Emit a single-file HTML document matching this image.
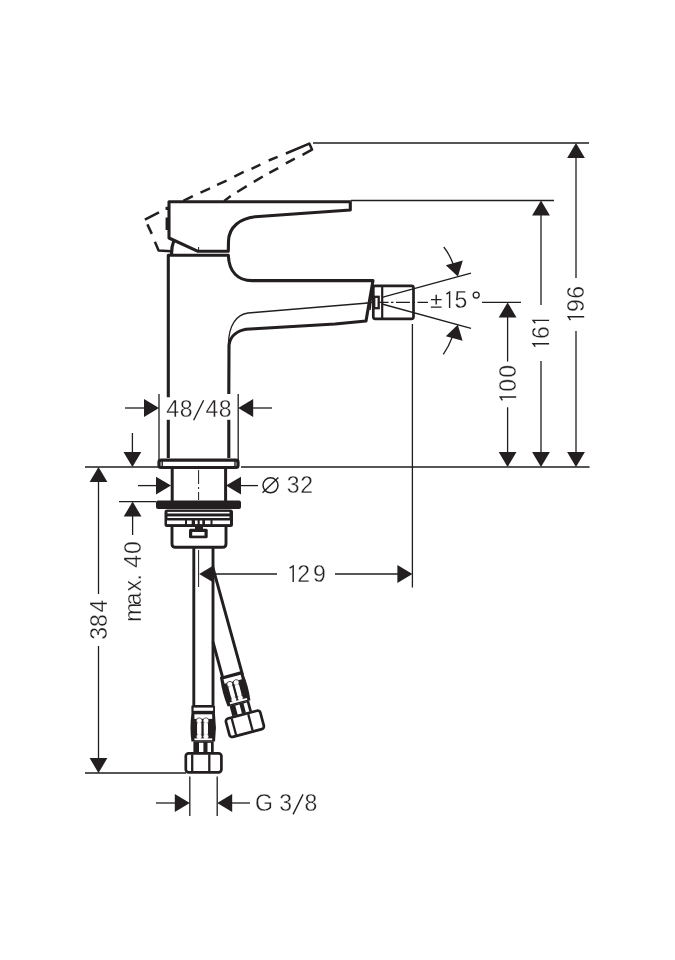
<!DOCTYPE html>
<html><head><meta charset="utf-8"><style>
html,body{margin:0;padding:0;background:#fff;}
svg{display:block;}
text{font-family:"Liberation Sans",sans-serif;}
</style></head><body>
<svg width="675" height="960" viewBox="0 0 675 960">
<rect width="675" height="960" fill="#fff"/>
<line x1="313" y1="143" x2="589" y2="143" stroke="#1e1e1e" stroke-width="1.3" />
<line x1="351" y1="200.5" x2="554" y2="200.5" stroke="#1e1e1e" stroke-width="1.3" />
<line x1="85" y1="467" x2="158" y2="467" stroke="#1e1e1e" stroke-width="1.3" />
<line x1="241" y1="467" x2="589.6" y2="467" stroke="#1e1e1e" stroke-width="1.3" />
<line x1="576" y1="157" x2="576" y2="278" stroke="#1e1e1e" stroke-width="1.3" />
<line x1="576" y1="331" x2="576" y2="452" stroke="#1e1e1e" stroke-width="1.3" />
<polygon points="576.0,143.0 567.1,158.0 584.9,158.0" fill="#231f20"/>
<polygon points="576.0,467.0 567.1,452.0 584.9,452.0" fill="#231f20"/>
<line x1="541" y1="215" x2="541" y2="305" stroke="#1e1e1e" stroke-width="1.3" />
<line x1="541" y1="361" x2="541" y2="452" stroke="#1e1e1e" stroke-width="1.3" />
<polygon points="541.0,200.5 532.1,215.5 549.9,215.5" fill="#231f20"/>
<polygon points="541.0,467.0 532.1,452.0 549.9,452.0" fill="#231f20"/>
<line x1="482" y1="302.4" x2="521" y2="302.4" stroke="#1e1e1e" stroke-width="1.3" />
<line x1="507.6" y1="317" x2="507.6" y2="361.6" stroke="#1e1e1e" stroke-width="1.3" />
<line x1="507.6" y1="407.3" x2="507.6" y2="452" stroke="#1e1e1e" stroke-width="1.3" />
<polygon points="507.6,302.4 498.7,317.4 516.5,317.4" fill="#231f20"/>
<polygon points="507.6,467.0 498.7,452.0 516.5,452.0" fill="#231f20"/>
<line x1="159" y1="394" x2="159" y2="466" stroke="#1e1e1e" stroke-width="1.3" />
<line x1="238.2" y1="394" x2="238.2" y2="466" stroke="#1e1e1e" stroke-width="1.3" />
<polygon points="159.0,408.0 144.0,399.1 144.0,416.9" fill="#231f20"/>
<polygon points="238.2,408.0 253.2,399.1 253.2,416.9" fill="#231f20"/>
<line x1="125" y1="408" x2="145" y2="408" stroke="#1e1e1e" stroke-width="1.3" />
<line x1="252" y1="408" x2="272" y2="408" stroke="#1e1e1e" stroke-width="1.3" />
<line x1="132.4" y1="433" x2="132.4" y2="452" stroke="#1e1e1e" stroke-width="1.3" />
<polygon points="132.4,467.0 123.5,452.0 141.3,452.0" fill="#231f20"/>
<polygon points="98.5,467.0 89.6,482.0 107.4,482.0" fill="#231f20"/>
<line x1="98.5" y1="481" x2="98.5" y2="594" stroke="#1e1e1e" stroke-width="1.3" />
<line x1="98.5" y1="646" x2="98.5" y2="759" stroke="#1e1e1e" stroke-width="1.3" />
<polygon points="98.5,773.0 89.6,758.0 107.4,758.0" fill="#231f20"/>
<line x1="85" y1="773" x2="186" y2="773" stroke="#1e1e1e" stroke-width="1.3" />
<line x1="119" y1="501.6" x2="156" y2="501.6" stroke="#1e1e1e" stroke-width="1.3" />
<polygon points="132.6,501.6 123.7,516.6 141.5,516.6" fill="#231f20"/>
<line x1="132.6" y1="516" x2="132.6" y2="535" stroke="#1e1e1e" stroke-width="1.3" />
<line x1="138" y1="485.6" x2="157" y2="485.6" stroke="#1e1e1e" stroke-width="1.3" />
<polygon points="171.0,485.6 156.0,476.7 156.0,494.5" fill="#231f20"/>
<polygon points="226.0,485.6 241.0,476.7 241.0,494.5" fill="#231f20"/>
<line x1="240" y1="485.6" x2="258" y2="485.6" stroke="#1e1e1e" stroke-width="1.3" />
<polygon points="199.2,574.0 214.2,565.1 214.2,582.9" fill="#231f20"/>
<line x1="213" y1="574" x2="277" y2="574" stroke="#1e1e1e" stroke-width="1.3" />
<line x1="335" y1="574" x2="398" y2="574" stroke="#1e1e1e" stroke-width="1.3" />
<polygon points="412.4,574.0 397.4,565.1 397.4,582.9" fill="#231f20"/>
<line x1="412.4" y1="324" x2="412.4" y2="587.6" stroke="#1e1e1e" stroke-width="1.3" />
<line x1="189.8" y1="776.5" x2="189.8" y2="816" stroke="#1e1e1e" stroke-width="1.3" />
<line x1="217.2" y1="776.5" x2="217.2" y2="816" stroke="#1e1e1e" stroke-width="1.3" />
<polygon points="189.8,803.0 174.8,794.1 174.8,811.9" fill="#231f20"/>
<line x1="156" y1="803" x2="176" y2="803" stroke="#1e1e1e" stroke-width="1.3" />
<polygon points="217.2,803.0 232.2,794.1 232.2,811.9" fill="#231f20"/>
<line x1="231" y1="803" x2="250" y2="803" stroke="#1e1e1e" stroke-width="1.3" />
<line x1="382" y1="297.4" x2="471" y2="273.1" stroke="#1e1e1e" stroke-width="1.3" />
<line x1="382" y1="304" x2="471" y2="328.3" stroke="#1e1e1e" stroke-width="1.3" />
<line x1="366.5" y1="302.4" x2="428" y2="302.4" stroke="#1e1e1e" stroke-width="1.3" stroke-dasharray="14 2.5 2.5 2.5" stroke-dashoffset="-8"/>
<path d="M443.8,247 Q450,255 453.5,265" fill="none" stroke="#231f20" stroke-width="1.3" stroke-linejoin="round" />
<polygon points="457.9,276.6 445.8,265.2 462.8,260.6" fill="#231f20"/>
<path d="M443.3,354.3 Q449,346 452.3,337" fill="none" stroke="#231f20" stroke-width="1.3" stroke-linejoin="round" />
<polygon points="457.8,324.8 445.8,336.2 462.6,340.8" fill="#231f20"/>
<g font-family="Liberation Sans, sans-serif" font-size="23" fill="#231f20" style="opacity:0.995">
<g>
<text x="166.18" y="416.60" stroke="#fff" stroke-width="0.3">4</text>
<text x="179.70" y="416.60" stroke="#fff" stroke-width="0.3">8</text>
<text x="205.53" y="416.60" stroke="#fff" stroke-width="0.3">4</text>
<text x="218.85" y="416.60" stroke="#fff" stroke-width="0.3">8</text>
<line x1="193.6" y1="420.2" x2="203.6" y2="400.2" stroke="#231f20" stroke-width="1.4"/>
</g>
<g>
<path d="M293.20,582.00 L293.20,566.00 L289.60,568.20" fill="none" stroke="#231f20" stroke-width="1.4" stroke-linejoin="miter"/>
<text x="297.15" y="581.80" stroke="#fff" stroke-width="0.3">2</text>
<text x="312.96" y="581.80" stroke="#fff" stroke-width="0.3">9</text>
</g>
<g>
<text x="286.77" y="493.00" stroke="#fff" stroke-width="0.3">3</text>
<text x="300.35" y="493.00" stroke="#fff" stroke-width="0.3">2</text>
<circle cx="270.5" cy="485.3" r="7.5" fill="none" stroke="#231f20" stroke-width="1.5"/><line x1="262.6" y1="492.8" x2="278.3" y2="477.6" stroke="#231f20" stroke-width="1.4"/>
</g>
<g>
<text x="254.99" y="811.00" stroke="#fff" stroke-width="0.3">G</text>
<text x="279.27" y="811.00" stroke="#fff" stroke-width="0.3">3</text>
<text x="304.45" y="811.00" stroke="#fff" stroke-width="0.3">8</text>
<line x1="293.1" y1="814.4" x2="303" y2="794.4" stroke="#231f20" stroke-width="1.4"/>
</g>
<g>
<path d="M449.60,308.00 L449.60,292.00 L446.40,294.20" fill="none" stroke="#231f20" stroke-width="1.4" stroke-linejoin="miter"/>
<text x="454.58" y="307.80" stroke="#fff" stroke-width="0.3">5</text>
<path d="M436.2,294.8 V304.4 M430.9,299.6 H441.6 M430.9,307.1 H441.6" fill="none" stroke="#231f20" stroke-width="1.4"/><circle cx="476.2" cy="295.1" r="3.0" fill="none" stroke="#231f20" stroke-width="1.3"/>
</g>
<g transform="translate(584 1000.0) rotate(-90)">
<path d="M683.20,0.20 L683.20,-15.80 L679.80,-13.60" fill="none" stroke="#231f20" stroke-width="1.4" stroke-linejoin="miter"/>
<text x="687.96" y="0.00" stroke="#fff" stroke-width="0.3">9</text>
<text x="701.33" y="0.00" stroke="#fff" stroke-width="0.3">6</text>
</g>
<g transform="translate(548.9 1000.0) rotate(-90)">
<path d="M656.20,0.20 L656.20,-15.80 L653.40,-13.60" fill="none" stroke="#231f20" stroke-width="1.4" stroke-linejoin="miter"/>
<text x="661.08" y="0.00" stroke="#fff" stroke-width="0.3">6</text>
<path d="M679.60,0.20 L679.60,-15.80 L676.80,-13.60" fill="none" stroke="#231f20" stroke-width="1.4" stroke-linejoin="miter"/>
</g>
<g transform="translate(516 1000.0) rotate(-90)">
<path d="M603.00,0.20 L603.00,-15.80 L599.70,-13.60" fill="none" stroke="#231f20" stroke-width="1.4" stroke-linejoin="miter"/>
<text x="608.25" y="0.00" stroke="#fff" stroke-width="0.3">0</text>
<text x="622.20" y="0.00" stroke="#fff" stroke-width="0.3">0</text>
</g>
<g transform="translate(107.1 1000.0) rotate(-90)">
<text x="360.32" y="0.00" stroke="#fff" stroke-width="0.3">3</text>
<text x="372.95" y="0.00" stroke="#fff" stroke-width="0.3">8</text>
<text x="387.53" y="0.00" stroke="#fff" stroke-width="0.3">4</text>
</g>
<g transform="translate(140.7 1000.0) rotate(-90)">
<text x="378.21" y="0.00" stroke="#fff" stroke-width="0.3">m</text>
<text x="394.72" y="0.00" stroke="#fff" stroke-width="0.3">a</text>
<text x="408.49" y="0.00" stroke="#fff" stroke-width="0.3">x</text>
<text x="419.45" y="0.00" stroke="#fff" stroke-width="0.3">.</text>
<text x="432.23" y="0.00" stroke="#fff" stroke-width="0.3">4</text>
<text x="445.95" y="0.00" stroke="#fff" stroke-width="0.3">0</text>
</g>
</g>
<path d="M169,201.7 L350.3,201.7 L350.3,210 L255,216.8 C240,218.5 229,227 228.5,241 L228.3,251.3 L198,251.3 L169,238 Z" fill="none" stroke="#231f20" stroke-width="3.1" stroke-linejoin="round" />
<path d="M173.9,240.5 Q171.3,247 171.5,254.5" fill="none" stroke="#231f20" stroke-width="3.2" stroke-linejoin="round" />
<line x1="198.6" y1="247" x2="198.6" y2="252" stroke="#1e1e1e" stroke-width="1" />
<path d="M168.3,397.2 L168.3,255.2 L228.3,255.2 C229,272 238,280.6 252,280.6 L373,280.6 L366,321 L335,324 L246,329.2 C236,331 230,337 229,345 L228.8,394" fill="none" stroke="#231f20" stroke-width="3.1" stroke-linejoin="round" />
<line x1="168.3" y1="419.8" x2="168.3" y2="458" stroke="#231f20" stroke-width="3.1" />
<line x1="228.8" y1="419.8" x2="228.8" y2="458" stroke="#231f20" stroke-width="3.1" />
<path d="M228.5,343 C229,326 236,314.5 248,313 L368,303" fill="none" stroke="#231f20" stroke-width="1.3" stroke-linejoin="round" />
<rect x="373.3" y="285.8" width="40.2" height="33" rx="2" fill="none" stroke="#231f20" stroke-width="2.7"/>
<line x1="382.2" y1="286" x2="382.2" y2="319" stroke="#231f20" stroke-width="2.2" />
<rect x="374.2" y="296.8" width="4.5" height="11.4" fill="#fff" stroke="#231f20" stroke-width="2.3"/>
<line x1="370" y1="310" x2="372.8" y2="284" stroke="#231f20" stroke-width="1.6" />
<g fill="none" stroke="#231f20" stroke-width="2.5" stroke-linecap="butt" stroke-linejoin="round">
<path d="M144.9,219.6 L159,212.3"/>
<path d="M183.3,200.9 L192.8,196.1"/>
<path d="M200.5,192.6 L210,188.4"/>
<path d="M217.1,184.9 L226.6,180.7"/>
<path d="M234.3,176.6 L243.7,171.9"/>
<path d="M251.5,168.8 L260.4,164.6"/>
<path d="M268.7,160.5 L277.6,156.9"/>
<path d="M285.9,153.5 L309.3,143.6 L312,149.6 L302.5,154.8"/>
<path d="M224.2,200.9 L230.7,196.1"/>
<path d="M237.2,192 L246.7,186.1"/>
<path d="M253.8,181.9 L262.8,176.5"/>
<path d="M269.3,172.9 L278.2,168.2"/>
<path d="M285.9,163.4 L294.8,158.7"/>
<path d="M147.4,224.4 L151.8,233.9"/>
<path d="M154.9,241.7 L158.6,250.5 L171,251.2"/>
<path d="M166.8,206.8 L166.8,210"/>
<path d="M166.8,217.5 L166.8,230"/>
</g>
<rect x="159" y="460.2" width="79" height="7.3" rx="2" fill="#fff" stroke="#231f20" stroke-width="3.2"/>
<line x1="162.2" y1="461" x2="162.2" y2="467" stroke="#231f20" stroke-width="1.4" />
<line x1="235" y1="461" x2="235" y2="467" stroke="#231f20" stroke-width="1.4" />
<line x1="172.2" y1="469" x2="172.2" y2="501" stroke="#231f20" stroke-width="3" />
<line x1="225.6" y1="469" x2="225.6" y2="501" stroke="#231f20" stroke-width="3" />
<line x1="198.6" y1="470" x2="198.6" y2="500" stroke="#1e1e1e" stroke-width="1" stroke-dasharray="14 3 2 3"/>
<rect x="156" y="500.5" width="85" height="8.6" rx="2" fill="#231f20"/>
<rect x="164.5" y="509.5" width="68.5" height="17.5" rx="2.5" fill="#231f20"/>
<rect x="167.5" y="511.9" width="62" height="1.6" fill="#fff"/>
<rect x="167.5" y="516.4" width="62" height="1.6" fill="#fff"/>
<rect x="167" y="520.5" width="18" height="3.6" fill="#fff"/>
<rect x="187" y="520.5" width="4.699999999999989" height="3.6" fill="#fff"/>
<rect x="195" y="520.5" width="2.5999999999999943" height="3.6" fill="#fff"/>
<rect x="199.7" y="520.5" width="2.6000000000000227" height="3.6" fill="#fff"/>
<rect x="205" y="520.5" width="5.5" height="3.6" fill="#fff"/>
<rect x="212.5" y="520.5" width="17.5" height="3.6" fill="#fff"/>
<path d="M172,527 L172,544 Q172,547.3 175.5,547.3 L222.5,547.3 Q226,547.3 226,544 L226,527" fill="none" stroke="#231f20" stroke-width="2.9" stroke-linejoin="round" />
<rect x="195" y="525" width="8" height="5" fill="#231f20"/>
<rect x="189" y="528.8" width="18.7" height="9.5" rx="1.5" fill="#231f20"/>
<rect x="192.2" y="532" width="12.3" height="3.6" fill="#fff"/>
<line x1="193.8" y1="548" x2="193.8" y2="705" stroke="#231f20" stroke-width="2.9" />
<line x1="213" y1="548" x2="213" y2="705" stroke="#231f20" stroke-width="2.9" />
<line x1="198.6" y1="550" x2="198.6" y2="587" stroke="#1e1e1e" stroke-width="1" />
<g transform="translate(203.6 762.8) rotate(0)">
<rect x="-12.2" y="-57.9" width="23.6" height="9.5" rx="1.5" fill="#231f20"/>
<rect x="-10" y="-55.2" width="19.5" height="3.2" fill="#fff"/>
<path d="M-12.2,-49 L11.4,-49 Q13.2,-35 11.4,-21.3 L-12.2,-21.3 Q-14,-35 -12.2,-49 Z" fill="#231f20"/>
<rect x="-9.2" y="-48.5" width="17.8" height="4.6" fill="#fff"/>
<rect x="-6.5" y="-42" width="4.3" height="16" fill="#fff"/><rect x="0.1" y="-42" width="4.3" height="16" fill="#fff"/>
<circle cx="-4.4" cy="-42.1" r="2.9" fill="#fff" stroke="#231f20" stroke-width="0.7"/>
<circle cx="2.3" cy="-42.1" r="2.9" fill="#fff" stroke="#231f20" stroke-width="0.7"/>
<circle cx="-4.4" cy="-26.2" r="2.9" fill="#fff" stroke="#231f20" stroke-width="0.7"/>
<circle cx="2.3" cy="-26.2" r="2.9" fill="#fff" stroke="#231f20" stroke-width="0.7"/>
<rect x="-6" y="-40" width="3.3" height="12" fill="#fff"/><rect x="0.6" y="-40" width="3.3" height="12" fill="#fff"/>
<rect x="-9.2" y="-24.4" width="17.8" height="1.8" fill="#fff"/>
<rect x="-10.2" y="-21.5" width="20.3" height="11" fill="#231f20"/>
<rect x="-4.6" y="-20" width="4.4" height="9.5" fill="#fff"/><rect x="3.9" y="-20" width="3.5" height="9.5" fill="#fff"/>
<rect x="-17.8" y="-9.5" width="35.6" height="19" rx="2.8" fill="#fff" stroke="#231f20" stroke-width="2.7"/>
<line x1="-11.4" y1="-8.5" x2="-11.4" y2="8.5" stroke="#231f20" stroke-width="2.3"/><line x1="5.7" y1="-8.5" x2="5.7" y2="8.5" stroke="#231f20" stroke-width="2.3"/>
</g>
<path d="M213,568 L242.6,675" fill="none" stroke="#231f20" stroke-width="2.9" stroke-linejoin="round" />
<path d="M213,642 L222.5,677" fill="none" stroke="#231f20" stroke-width="2.9" stroke-linejoin="round" />
<g transform="translate(244.9 723.8) rotate(-15)">
<rect x="-12.2" y="-51.8" width="23.6" height="4" rx="1" fill="#231f20"/>
<path d="M-12.2,-49 L11.4,-49 Q13.2,-35 11.4,-21.3 L-12.2,-21.3 Q-14,-35 -12.2,-49 Z" fill="#231f20"/>
<rect x="-9.2" y="-48.5" width="17.8" height="4.6" fill="#fff"/>
<rect x="-6.5" y="-42" width="4.3" height="16" fill="#fff"/><rect x="0.1" y="-42" width="4.3" height="16" fill="#fff"/>
<circle cx="-4.4" cy="-42.1" r="2.9" fill="#fff" stroke="#231f20" stroke-width="0.7"/>
<circle cx="2.3" cy="-42.1" r="2.9" fill="#fff" stroke="#231f20" stroke-width="0.7"/>
<circle cx="-4.4" cy="-26.2" r="2.9" fill="#fff" stroke="#231f20" stroke-width="0.7"/>
<circle cx="2.3" cy="-26.2" r="2.9" fill="#fff" stroke="#231f20" stroke-width="0.7"/>
<rect x="-6" y="-40" width="3.3" height="12" fill="#fff"/><rect x="0.6" y="-40" width="3.3" height="12" fill="#fff"/>
<rect x="-9.2" y="-24.4" width="17.8" height="1.8" fill="#fff"/>
<rect x="-10.2" y="-21.5" width="20.3" height="11" fill="#231f20"/>
<rect x="-4.6" y="-20" width="4.4" height="9.5" fill="#fff"/><rect x="3.9" y="-20" width="3.5" height="9.5" fill="#fff"/>
<rect x="-17.8" y="-9.5" width="35.6" height="19" rx="2.8" fill="#fff" stroke="#231f20" stroke-width="2.7"/>
<line x1="-11.4" y1="-8.5" x2="-11.4" y2="8.5" stroke="#231f20" stroke-width="2.3"/><line x1="5.7" y1="-8.5" x2="5.7" y2="8.5" stroke="#231f20" stroke-width="2.3"/>
</g>
</svg></body></html>
